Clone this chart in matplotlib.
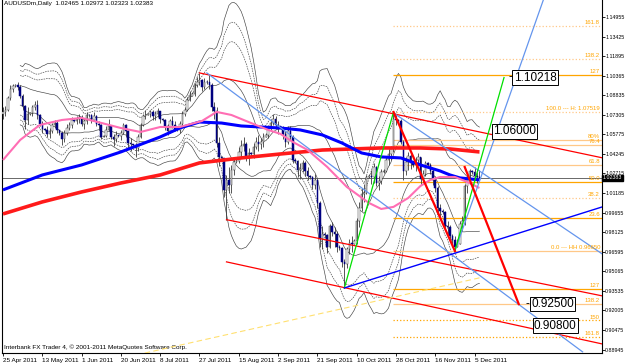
import numpy as np
import pandas as pd
import matplotlib
matplotlib.use("Agg")
import matplotlib.pyplot as plt

plt.rcParams["font.family"] = ["Liberation Sans", "DejaVu Sans"]

# =========================
# AUDUSDm daily bars (Sunday bars included), 25 Apr 2011 .. 7 Dec 2011
# =========================
first_open = 1.0740
close = [
    1.0755, 1.0770, 1.0865, 1.0935, 1.0955,
    1.0960, 1.0950, 1.0880, 1.0800, 1.0690, 1.0740,
    1.0745, 1.0790, 1.0810, 1.0730, 1.0660, 1.0620,
    1.0615, 1.0580, 1.0600, 1.0650, 1.0670, 1.0610,
    1.0590, 1.0545, 1.0590, 1.0630, 1.0650, 1.0690,
    1.0685, 1.0700, 1.0710, 1.0660, 1.0680, 1.0730,
    1.0725, 1.0690, 1.0720, 1.0660, 1.0650, 1.0560,
    1.0565, 1.0610, 1.0640, 1.0560, 1.0540, 1.0570,
    1.0565, 1.0590, 1.0650, 1.0600, 1.0510, 1.0500,
    1.0495, 1.0470, 1.0560, 1.0650, 1.0720, 1.0730,
    1.0735, 1.0750, 1.0720, 1.0740, 1.0760, 1.0700,
    1.0690, 1.0640, 1.0600, 1.0680, 1.0650, 1.0620,
    1.0615, 1.0660, 1.0740, 1.0770, 1.0850, 1.0880,
    1.0890, 1.0960, 1.0990, 1.1000, 1.0950, 1.0990,
    1.0985, 1.0960, 1.0790, 1.0760, 1.0510, 1.0400,
    1.0390, 1.0140, 1.0220, 1.0180, 1.0300, 1.0360,
    1.0370, 1.0440, 1.0490, 1.0500, 1.0400, 1.0430,
    1.0420, 1.0480, 1.0520, 1.0500, 1.0520, 1.0560,
    1.0570, 1.0630, 1.0670, 1.0700, 1.0650, 1.0640,
    1.0630, 1.0580, 1.0520, 1.0600, 1.0560, 1.0380,
    1.0370, 1.0300, 1.0310, 1.0350, 1.0290, 1.0250,
    1.0240, 1.0180, 1.0220, 1.0040, 0.9760, 0.9800,
    0.9790, 0.9700, 0.9860, 0.9810, 0.9800, 0.9700,
    0.9690, 0.9580, 0.9560, 0.9680, 0.9730, 0.9720,
    0.9740, 0.9900, 1.0000, 1.0110, 1.0120, 1.0240,
    1.0250, 1.0240, 1.0320, 1.0200, 1.0210, 1.0280,
    1.0290, 1.0380, 1.0420, 1.0460, 1.0700, 1.0690,
    1.0680, 1.0520, 1.0290, 1.0360, 1.0410, 1.0350,
    1.0340, 1.0380, 1.0400, 1.0230, 1.0270, 1.0350,
    1.0340, 1.0290, 1.0220, 1.0160, 1.0000, 0.9980,
    0.9970, 0.9860, 0.9850, 0.9780, 0.9750, 0.9700,
    0.9720, 0.9880, 0.9900, 1.0170, 1.0220, 1.0290,
    1.0280, 1.0250, 1.02465, 1.02383,
]
high = [
    1.0790, 1.0800, 1.0880, 1.0960, 1.0975,
    1.0975, 1.0990, 1.0960, 1.0890, 1.0810, 1.0790,
    1.0755, 1.0810, 1.0840, 1.0850, 1.0740, 1.0680,
    1.0625, 1.0640, 1.0625, 1.0670, 1.0690, 1.0680,
    1.0610, 1.0600, 1.0610, 1.0660, 1.0675, 1.0710,
    1.0700, 1.0720, 1.0740, 1.0730, 1.0700, 1.0750,
    1.0735, 1.0740, 1.0750, 1.0730, 1.0680, 1.0660,
    1.0575, 1.0640, 1.0700, 1.0650, 1.0580, 1.0600,
    1.0575, 1.0610, 1.0670, 1.0660, 1.0610, 1.0550,
    1.0505, 1.0510, 1.0580, 1.0670, 1.0740, 1.0770,
    1.0745, 1.0770, 1.0770, 1.0760, 1.0780, 1.0760,
    1.0705, 1.0700, 1.0660, 1.0700, 1.0720, 1.0680,
    1.0630, 1.0680, 1.0760, 1.0790, 1.0870, 1.0920,
    1.0910, 1.0980, 1.1030, 1.1058, 1.1010, 1.1020,
    1.1000, 1.1040, 1.0980, 1.0830, 1.0790, 1.0560,
    1.0410, 1.0380, 1.0260, 1.0320, 1.0340, 1.0400,
    1.0390, 1.0480, 1.0530, 1.0560, 1.0520, 1.0470,
    1.0440, 1.0510, 1.0560, 1.0570, 1.0550, 1.0590,
    1.0585, 1.0650, 1.0700, 1.0740, 1.0720, 1.0680,
    1.0645, 1.0640, 1.0600, 1.0640, 1.0640, 1.0570,
    1.0390, 1.0380, 1.0350, 1.0380, 1.0370, 1.0320,
    1.0260, 1.0250, 1.0270, 1.0230, 1.0060, 0.9860,
    0.9810, 0.9800, 0.9880, 0.9890, 0.9850, 0.9820,
    0.9710, 0.9700, 0.9600, 0.9700, 0.9760, 0.9780,
    0.9760, 0.9920, 1.0050, 1.0160, 1.0190, 1.0260,
    1.0270, 1.0300, 1.0350, 1.0330, 1.0250, 1.0310,
    1.0310, 1.0410, 1.0460, 1.0490, 1.0752, 1.0730,
    1.0700, 1.0700, 1.0530, 1.0400, 1.0440, 1.0420,
    1.0360, 1.0400, 1.0430, 1.0400, 1.0300, 1.0370,
    1.0360, 1.0350, 1.0310, 1.0250, 1.0170, 1.0030,
    0.9990, 0.9980, 0.9900, 0.9870, 0.9800, 0.9780,
    0.9760, 0.9900, 0.9940, 1.0190, 1.0260, 1.0310,
    1.0300, 1.0320, 1.0280, 1.02972,
]
low = [
    1.0700, 1.0720, 1.0760, 1.0850, 1.0905,
    1.0950, 1.0925, 1.0860, 1.0770, 1.0620, 1.0660,
    1.0730, 1.0720, 1.0770, 1.0700, 1.0640, 1.0590,
    1.0605, 1.0560, 1.0550, 1.0590, 1.0630, 1.0590,
    1.0575, 1.0495, 1.0520, 1.0570, 1.0610, 1.0630,
    1.0675, 1.0660, 1.0670, 1.0640, 1.0620, 1.0660,
    1.0715, 1.0670, 1.0680, 1.0640, 1.0610, 1.0540,
    1.0555, 1.0560, 1.0600, 1.0540, 1.0490, 1.0520,
    1.0555, 1.0530, 1.0580, 1.0560, 1.0470, 1.0450,
    1.0485, 1.0400, 1.0450, 1.0550, 1.0640, 1.0700,
    1.0725, 1.0710, 1.0690, 1.0690, 1.0710, 1.0670,
    1.0680, 1.0610, 1.0570, 1.0590, 1.0630, 1.0600,
    1.0605, 1.0590, 1.0640, 1.0720, 1.0760, 1.0840,
    1.0880, 1.0880, 1.0950, 1.0960, 1.0920, 1.0930,
    1.0975, 1.0930, 1.0760, 1.0700, 1.0480, 1.0330,
    1.0370, 1.0090, 0.9910, 1.0120, 1.0120, 1.0260,
    1.0355, 1.0350, 1.0400, 1.0450, 1.0370, 1.0340,
    1.0405, 1.0390, 1.0460, 1.0450, 1.0460, 1.0480,
    1.0555, 1.0550, 1.0610, 1.0650, 1.0620, 1.0580,
    1.0620, 1.0540, 1.0480, 1.0500, 1.0530, 1.0350,
    1.0355, 1.0240, 1.0230, 1.0280, 1.0250, 1.0220,
    1.0230, 1.0150, 1.0150, 1.0000, 0.9700, 0.9680,
    0.9770, 0.9650, 0.9690, 0.9780, 0.9700, 0.9660,
    0.9670, 0.9540, 0.9376, 0.9530, 0.9640, 0.9660,
    0.9720, 0.9720, 0.9850, 0.9980, 1.0050, 1.0110,
    1.0235, 1.0190, 1.0200, 1.0170, 1.0140, 1.0190,
    1.0275, 1.0280, 1.0340, 1.0380, 1.0440, 1.0650,
    1.0660, 1.0500, 1.0220, 1.0260, 1.0300, 1.0310,
    1.0325, 1.0290, 1.0330, 1.0180, 1.0200, 1.0250,
    1.0325, 1.0270, 1.0180, 1.0130, 0.9950, 0.9910,
    0.9955, 0.9830, 0.9790, 0.9750, 0.9700, 0.9665,
    0.9700, 0.9720, 0.9820, 0.9870, 1.0120, 1.0200,
    1.0270, 1.0220, 1.0200, 1.02323,
]

date_idx = [0, 16, 32, 48, 64, 80, 96, 112, 128, 144, 160, 176, 192]
date_labels = ["25 Apr 2011", "13 May 2011", "1 Jun 2011", "20 Jun 2011",
               "8 Jul 2011", "27 Jul 2011", "15 Aug 2011", "2 Sep 2011",
               "21 Sep 2011", "10 Oct 2011", "28 Oct 2011", "16 Nov 2011",
               "5 Dec 2011"]

# moving averages (bar index, price)
red_ma_idx = [0, 16, 32, 48, 64, 80, 97, 113, 130, 142, 154, 170, 182, 194]
red_ma = [0.9955, 1.0049, 1.0127, 1.0197, 1.0260, 1.0354, 1.0393, 1.0424,
          1.0455, 1.0463, 1.0471, 1.0471, 1.0463, 1.0440]
blue_ma_idx = [0, 16, 32, 48, 64, 72, 80, 89, 97, 105, 113, 121, 130, 138,
               146, 154, 162, 170, 178, 182, 186, 194]
blue_ma = [1.0143, 1.0260, 1.0338, 1.0440, 1.0557, 1.0627, 1.0674, 1.0666,
           1.0643, 1.0635, 1.0627, 1.0612, 1.0573, 1.0510, 1.0432, 1.0401,
           1.0393, 1.0338, 1.0291, 1.0260, 1.0237, 1.0221]
pink_ma_idx = [0, 7, 15, 24, 32, 40, 48, 56, 64, 72, 81, 87, 93, 100, 108,
               113, 118, 124, 132, 140, 149, 154, 159, 165, 170, 174, 178,
               184, 189, 194]
pink_ma = [1.0377, 1.0534, 1.0651, 1.0690, 1.0706, 1.0667, 1.0627, 1.0596,
           1.0635, 1.0635, 1.0682, 1.0753, 1.0729, 1.0674, 1.0612, 1.0581,
           1.0518, 1.0456, 1.0323, 1.0166, 1.0041, 0.9994, 1.0010, 1.0080,
           1.0174, 1.0221, 1.0244, 1.0244, 1.0205, 1.0158]

# drawn objects: (start bar, start price, end bar, end price)
red_channel = [(80, 1.1058, 244, 1.0394),
               (91, 0.9910, 244, 0.9314),
               (91, 0.9580, 244, 0.8938)]
lightblue_lines = [(83, 1.1058, 236, 0.8876),
                   (159, 1.0745, 244, 0.9642),
                   (184, 0.9665, 220, 1.1628)]
green_lines = [(139, 0.9376, 159, 1.0752), (184, 0.9665, 204, 1.10218)]
red_zigzag = [(159, 1.0752, 184, 0.9665), (188, 1.0322, 210, 0.9250)]
blue_support = (139, 0.9376, 244, 1.0010)
yellow_line = (40, 0.8790, 194, 0.9455)

fib_high, fib_low, fib_start = 1.07519, 0.96650, 159
fib_up = [("161.8", 1.618, ":"), ("138.2", 1.382, ":"), ("127", 1.27, "-"),
          ("100.0 --- H: 1.07519", 1.0, ":"), ("80%", 0.80, "-"),
          ("76.4", 0.764, "-"), ("61.8", 0.618, "-"), ("50.0", 0.5, "-"),
          ("38.2", 0.382, ":"), ("23.6", 0.236, "-"),
          ("0.0 --- HH 0.96650", 0.0, "-")]
fib_down = [("127", 1.27, "-"), ("138.2", 1.382, "-"), ("150", 1.5, ":"),
            ("161.8", 1.618, ":")]

price_labels = [(208, 1.10218, "1.10218", True), (199.5, 1.06000, "1.06000", False),
                (215, 0.92500, "0.92500", True), (216.2, 0.90800, "0.90800", False)]

last_price = 1.02383
y_ticks = [1.14955 - 0.0153 * k for k in range(18)]

# =========================
# figure
# =========================
fig = plt.figure(figsize=(6.25, 3.63), dpi=100)
ax = fig.add_axes([2 / 625, 10.5 / 363, 600 / 625, 352.5 / 363])
x_right = 243.9
ax.set_xlim(-0.41, x_right)
ax.set_ylim(0.88711, 1.16284)

close = np.array(close)
high = np.array(high)
low = np.array(low)
opens = np.r_[first_open, close[:-1]]
idx = np.arange(len(close))

# bollinger style envelopes
s = pd.Series(close)
mid = s.rolling(20, min_periods=8).mean()
sd = s.rolling(20, min_periods=8).std(ddof=0)
dash = (0, (2.5, 1.5))
for k, ls in [(1.0, "-"), (2.0, dash), (2.5, dash), (3.0, "-")]:
    ax.plot(idx, mid + k * sd, color="#404040", lw=0.45, ls=ls, zorder=1)
    ax.plot(idx, mid - k * sd, color="#404040", lw=0.45, ls=ls, zorder=1)

# fibonacci levels
rng = fib_high - fib_low
for lab, r, ls in fib_up:
    p = fib_low + r * rng
    col = "#FFA500" if ls == "-" and r in (1.27, 0.5, 0.236) else "#FFC888"
    ax.hlines(p, fib_start, x_right, color=col, lw=0.9, ls=ls, zorder=1)
    ax.text(x_right - 0.8, p + 0.0006, lab, ha="right", va="bottom",
            fontsize=4.3, color="#FFA500", zorder=6)
for lab, r, ls in fib_down:
    p = fib_high - r * rng
    col = "#FFA500" if r == 1.27 or ls == ":" else "#FFC888"
    ax.hlines(p, fib_start, x_right, color=col, lw=0.9, ls=ls, zorder=1)
    ax.text(x_right - 0.8, p + 0.0006, lab, ha="right", va="bottom",
            fontsize=4.3, color="#FFA500", zorder=6)

# candles
up = close >= opens
ax.vlines(idx, low, high, color="#3a3a3a", lw=0.6, zorder=2)
ax.bar(idx[up], np.maximum(close[up] - opens[up], 0.0002), bottom=opens[up],
       width=0.62, color="white", edgecolor="#3a3a3a", lw=0.35, zorder=3)
ax.bar(idx[~up], close[~up] - opens[~up], bottom=opens[~up],
       width=0.62, color="#000080", edgecolor="#000080", lw=0.35, zorder=3)

# moving averages
ax.plot(red_ma_idx, red_ma, color="#FF1A1A", lw=2.6, zorder=4, solid_capstyle="butt")
ax.plot(blue_ma_idx, blue_ma, color="#0000FF", lw=2.2, zorder=4, solid_capstyle="butt")
ax.plot(pink_ma_idx, pink_ma, color="#FF6EB4", lw=1.5, zorder=4, solid_capstyle="butt")

# current price line
ax.axhline(last_price, color="#505050", lw=0.6, zorder=2)

# drawn objects
def seg(line, **kw):
    x0, p0, x1, p1 = line
    ax.plot([x0, x1], [p0, p1], **kw)

for ln in red_channel:
    seg(ln, color="#FF0000", lw=0.9, zorder=5)
for ln in lightblue_lines:
    seg(ln, color="#6495ED", lw=0.9, zorder=5)
for ln in green_lines:
    seg(ln, color="#00E000", lw=0.9, zorder=5)
for ln in red_zigzag:
    seg(ln, color="#FF0000", lw=1.6, zorder=5)
seg(blue_support, color="#0000FF", lw=1.0, zorder=5)
seg(yellow_line, color="#FFE070", lw=0.8, ls=(0, (5, 3)), zorder=5)

for xi, p, txt, has_dash in price_labels:
    ax.text(xi, p, txt, ha="left", va="center", fontsize=8.5, color="black",
            zorder=7, bbox=dict(boxstyle="square,pad=0.12", fc="white",
                                ec="black", lw=0.7))
    if has_dash:
        ax.text(xi - 0.6, p, "-", ha="right", va="center", fontsize=8.5,
                color="black", zorder=7)

# header and footer text
ax.text(0.004, 0.997, "AUDUSDm,Daily  1.02465 1.02972 1.02323 1.02383",
        transform=ax.transAxes, ha="left", va="top", fontsize=4.6)
ax.text(0.004, 0.006, "Interbank FX Trader 4, \u00a9 2001-2011 MetaQuotes Software Corp.",
        transform=ax.transAxes, ha="left", va="bottom", fontsize=4.6)

# axes styling
ax.set_xticks(date_idx)
ax.set_xticklabels(date_labels, ha="left", fontsize=4.6)
ax.set_yticks(y_ticks)
ax.set_yticklabels([f"{v:.5f}" for v in y_ticks], fontsize=3.75)
ax.yaxis.tick_right()
ax.tick_params(axis="x", direction="out", length=2.5, width=0.6, pad=1.2)
ax.tick_params(axis="y", direction="out", length=1.8, width=0.6, pad=0.4)
for side in ("left", "bottom", "right"):
    ax.spines[side].set_linewidth(0.8)
ax.spines["top"].set_visible(False)

ax.annotate(f"{last_price:.5f}", xy=(1, last_price), xycoords=("axes fraction", "data"),
            xytext=(0.6, 0), textcoords="offset points", ha="left", va="center",
            fontsize=3.75, color="white", zorder=8, annotation_clip=False,
            bbox=dict(boxstyle="square,pad=0.1", fc="black", ec="black"))

fig.savefig("out.png", dpi=100)
